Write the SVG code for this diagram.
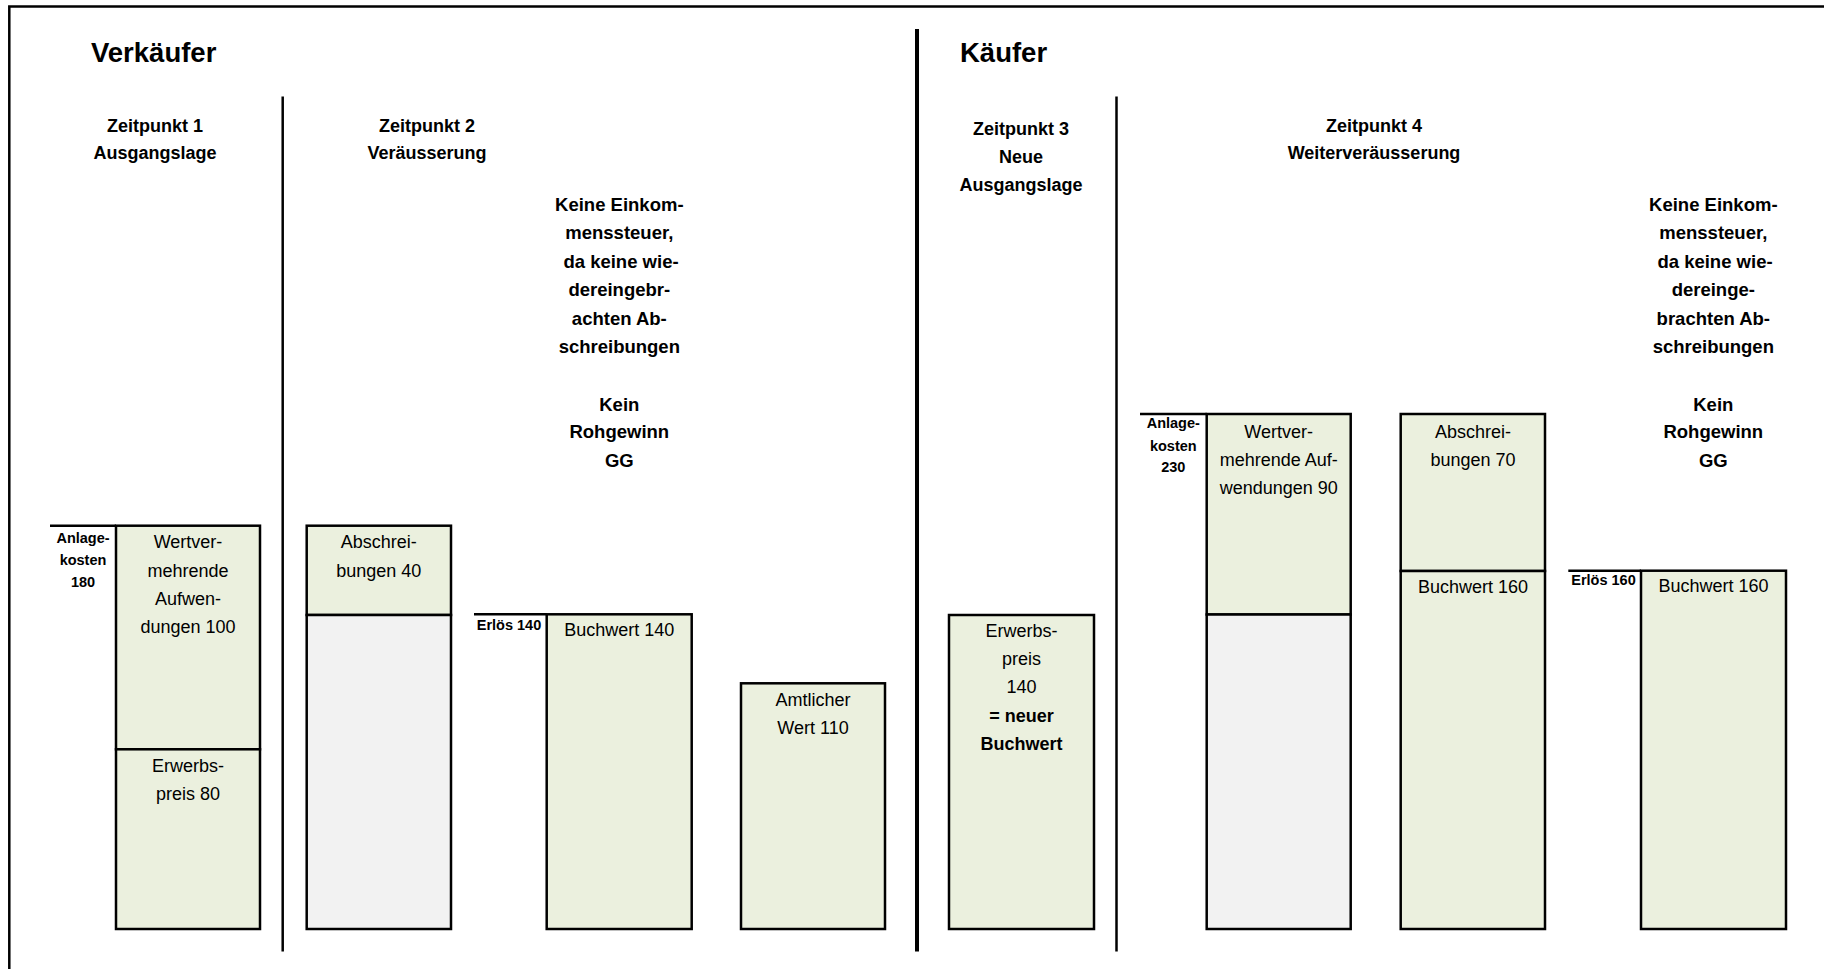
<svg xmlns="http://www.w3.org/2000/svg" width="1824" height="969" viewBox="0 0 1824 969">
<style>
text{font-family:"Liberation Sans",Arial,sans-serif;fill:#000;text-anchor:middle}
.t{font-size:27.5px;font-weight:bold;text-anchor:start}
.h{font-size:18px;font-weight:bold}
.n{font-size:18px}
.b{font-size:18.5px;font-weight:bold}
.s{font-size:14.5px;font-weight:bold}
.g{fill:#EBF0DE;stroke:#000;stroke-width:2.5}
.y{fill:#F2F2F2;stroke:#000;stroke-width:2.5}
.ln{stroke:#000;stroke-width:2.5;fill:none}
</style>
<rect x="0" y="0" width="1824" height="969" fill="#fff"/>
<g id="frame">
<path class="ln" d="M9.3 969 V6.5 H1824"/>
</g>
<g id="connectors">
<line class="ln" x1="282.7" y1="96.5" x2="282.7" y2="951.5"/>
<line x1="917" y1="29" x2="917" y2="951.5" stroke="#000" stroke-width="4"/>
<line class="ln" x1="1116.5" y1="96.5" x2="1116.5" y2="951.5"/>
<line class="ln" x1="50" y1="525.7" x2="116" y2="525.7"/>
<line class="ln" x1="474" y1="614.3" x2="546.7" y2="614.3"/>
<line class="ln" x1="1140" y1="414" x2="1206.7" y2="414"/>
<line class="ln" x1="1568.3" y1="570.7" x2="1641" y2="570.7"/>
</g>
<g id="titles">
<text class="t" x="91" y="61.7">Verkäufer</text>
<text class="t" x="960" y="61.7">Käufer</text>
</g>
<g id="zp1">
<text class="h" x="155" y="131.5">Zeitpunkt 1</text>
<text class="h" x="155" y="159.3">Ausgangslage</text>
</g>
<g id="zp2">
<text class="h" x="427" y="131.5">Zeitpunkt 2</text>
<text class="h" x="427" y="159.3">Veräusserung</text>
</g>
<g id="zp3">
<text class="h" x="1021" y="135">Zeitpunkt 3</text>
<text class="h" x="1021" y="163">Neue</text>
<text class="h" x="1021" y="190.5">Ausgangslage</text>
</g>
<g id="zp4">
<text class="h" x="1374" y="131.5">Zeitpunkt 4</text>
<text class="h" x="1374" y="158.5">Weiterveräusserung</text>
</g>
<g id="note1">
<text class="b" x="619.3" y="210.7">Keine Einkom-</text>
<text class="b" x="619.3" y="239.3">menssteuer,</text>
<text class="b" x="621" y="267.5">da keine wie-</text>
<text class="b" x="619.3" y="296.3">dereingebr-</text>
<text class="b" x="619.3" y="325">achten Ab-</text>
<text class="b" x="619.3" y="353.3">schreibungen</text>
<text class="b" x="619.3" y="410.7">Kein</text>
<text class="b" x="619.3" y="438.3">Rohgewinn</text>
<text class="b" x="619.3" y="467.3">GG</text>
</g>
<g id="note2">
<text class="b" x="1713.3" y="210.7">Keine Einkom-</text>
<text class="b" x="1713.3" y="239.3">menssteuer,</text>
<text class="b" x="1715" y="267.5">da keine wie-</text>
<text class="b" x="1713.3" y="296.3">dereinge-</text>
<text class="b" x="1713.3" y="325">brachten Ab-</text>
<text class="b" x="1713.3" y="353.3">schreibungen</text>
<text class="b" x="1713.3" y="410.7">Kein</text>
<text class="b" x="1713.3" y="438.3">Rohgewinn</text>
<text class="b" x="1713.3" y="467.3">GG</text>
</g>
<g id="anlage180">
<text class="s" x="83" y="543">Anlage-</text>
<text class="s" x="83" y="565">kosten</text>
<text class="s" x="83" y="586.7">180</text>
</g>
<g id="box1">
<rect class="g" x="116" y="525.7" width="144" height="223.6"/>
<rect class="g" x="116" y="749.3" width="144" height="179.7"/>
<text class="n" x="188" y="548.3">Wertver-</text>
<text class="n" x="188" y="576.5">mehrende</text>
<text class="n" x="188" y="604.8">Aufwen-</text>
<text class="n" x="188" y="632.8">dungen 100</text>
<text class="n" x="188" y="771.7">Erwerbs-</text>
<text class="n" x="188" y="800">preis 80</text>
</g>
<g id="box2">
<rect class="g" x="306.7" y="525.7" width="144.3" height="89.3"/>
<rect class="y" x="306.7" y="615" width="144.3" height="314"/>
<text class="n" x="378.8" y="548.3">Abschrei-</text>
<text class="n" x="378.8" y="576.5">bungen 40</text>
</g>
<g id="erloes140">
<text class="s" x="509" y="630">Erlös 140</text>
</g>
<g id="box3">
<rect class="g" x="546.7" y="614.3" width="145" height="314.7"/>
<text class="n" x="619.2" y="636">Buchwert 140</text>
</g>
<g id="box4">
<rect class="g" x="741" y="683.3" width="144" height="245.7"/>
<text class="n" x="813" y="706">Amtlicher</text>
<text class="n" x="813" y="733.5">Wert 110</text>
</g>
<g id="box5">
<rect class="g" x="949" y="615" width="145" height="314"/>
<text class="n" x="1021.5" y="636.7">Erwerbs-</text>
<text class="n" x="1021.5" y="665">preis</text>
<text class="n" x="1021.5" y="693.3">140</text>
<text class="h" x="1021.5" y="722.3">= neuer</text>
<text class="h" x="1021.5" y="750">Buchwert</text>
</g>
<g id="anlage230">
<text class="s" x="1173.3" y="428.3">Anlage-</text>
<text class="s" x="1173.3" y="450.7">kosten</text>
<text class="s" x="1173.3" y="471.7">230</text>
</g>
<g id="box6">
<rect class="g" x="1206.7" y="414" width="144" height="200.5"/>
<rect class="y" x="1206.7" y="614.5" width="144" height="314.5"/>
<text class="n" x="1278.7" y="438.3">Wertver-</text>
<text class="n" x="1278.7" y="466">mehrende Auf-</text>
<text class="n" x="1278.7" y="493.5">wendungen 90</text>
</g>
<g id="box7">
<rect class="g" x="1400.7" y="414" width="144.3" height="157"/>
<rect class="g" x="1400.7" y="571" width="144.3" height="358"/>
<text class="n" x="1473" y="438.3">Abschrei-</text>
<text class="n" x="1473" y="466">bungen 70</text>
<text class="n" x="1473" y="592.7">Buchwert 160</text>
</g>
<g id="erloes160">
<text class="s" x="1603.5" y="585">Erlös 160</text>
</g>
<g id="box8">
<rect class="g" x="1641" y="570.7" width="145" height="358.3"/>
<text class="n" x="1713.5" y="591.7">Buchwert 160</text>
</g>
</svg>
